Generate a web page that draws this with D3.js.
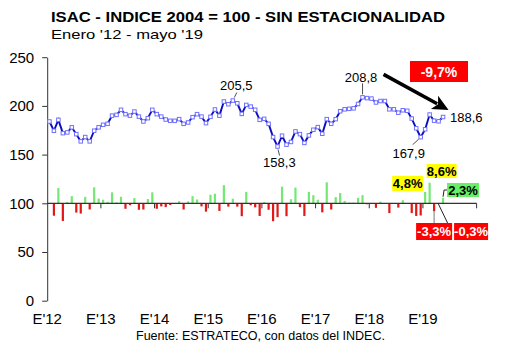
<!DOCTYPE html>
<html><head><meta charset="utf-8">
<script src="https://cdn.jsdelivr.net/npm/d3@7"></script>
<style>
body{margin:0;background:#fff;}
svg{display:block;font-family:"Liberation Sans",Arial,sans-serif;}
</style>
</head><body>
<svg id="c" width="530" height="355"></svg>
<script>
// ---- data ----
const years = ["2012","2013","2014","2015","2016","2017","2018","2019"];
const yearLabels = ["E'12","E'13","E'14","E'15","E'16","E'17","E'18","E'19"];
const yTicks = [0,50,100,150,200,250];
// ISAC index (2004=100), seasonally adjusted, Jan 2012 - May 2019
const isac = [184,174.5,185.7,172,172.8,178,171,163.6,168,163.6,174.5,178,
180.6,181.6,190,190.8,196,191.5,190,194.2,189,184,187.4,196,
191.5,189,186,184.7,184.7,186.4,181.6,183,188.4,191.5,189,182.3,
188.8,196.3,190,204.5,201.7,205.5,202.7,191.8,201,199.3,196,185.7,
186.7,181.6,168,158.3,169.4,160.2,163,173.8,171,162,169.7,175.5,
178.2,171.4,186.4,181.6,186.4,194.5,196.5,197,197.5,202,208.8,208,
207.5,203.5,205,205,196.5,196.5,193,195.5,195,187,177,167.9,
176,191.1,184.8,184.2,188.6];
// monthly % change (bars)
const varMensual = [null,-5.2,6.4,-7.4,0.5,3.0,-3.9,-4.3,2.7,-2.6,6.7,2.0,
1.5,0.6,4.6,0.4,2.7,-2.3,-0.8,2.2,-2.7,-2.6,1.8,4.6,
-2.3,-1.3,-1.6,-0.7,0.0,0.9,-2.6,0.8,3.0,1.6,-1.3,-3.5,
3.6,4.0,-3.2,7.6,-1.4,1.9,-1.4,-5.4,4.8,-0.8,-1.7,-5.3,
0.5,-2.7,-7.5,-5.8,7.0,-5.4,1.7,6.6,-1.6,-5.3,4.8,3.4,
1.5,-3.8,8.8,-2.6,2.6,4.3,1.0,0.3,0.3,2.3,3.4,-0.4,
-0.2,-1.9,0.7,0.0,-4.1,0.0,-1.8,1.3,-0.3,-4.1,-5.3,-5.1,
4.8,8.6,-3.3,-0.3,2.3];
const pointLabels = [
  {i:41, text:"205,5"}, {i:51, text:"158,3"}, {i:70, text:"208,8"},
  {i:83, text:"167,9"}, {i:88, text:"188,6"}];
const totalChange = "-9,7%";
const barLabels = [
  {i:84, text:"4,8%"}, {i:85, text:"8,6%"}, {i:86, text:"-3,3%"},
  {i:87, text:"-0,3%"}, {i:88, text:"2,3%"}];

// ---- scales ----
const months = years.flatMap(y => d3.range(12).map(m => y + "-" + String(m+1).padStart(2,"0")));
const svg = d3.select("#c");
const x = d3.scaleBand().domain(months).range([47.2, 476.6]);
const bw = x.bandwidth();
const cx = i => x(months[i]) + bw/2;
const y = d3.scaleLinear().domain([0,250]).range([300.7, 57.2]);
const yBar = d3.scaleLinear().domain([0,10]).range([y(100), y(124.5)]);

// ---- titles ----
svg.append("text").attr("x",51).attr("y",22.3)
  .attr("font-size",15.5).attr("font-weight","bold")
  .attr("textLength",394).attr("lengthAdjust","spacingAndGlyphs")
  .text("ISAC - INDICE 2004 = 100 - SIN ESTACIONALIDAD");
svg.append("text").attr("x",51).attr("y",38.5)
  .attr("font-size",13.5).attr("textLength",152).attr("lengthAdjust","spacingAndGlyphs")
  .text("Enero '12 - mayo '19");
svg.append("text").attr("x",260.5).attr("y",339.5).attr("text-anchor","middle")
  .attr("font-size",12).attr("textLength",249).attr("lengthAdjust","spacingAndGlyphs")
  .text("Fuente: ESTRATECO, con datos del INDEC.");

// ---- y axis ----
const yAx = svg.append("g").attr("transform",`translate(${x.range()[0]},0)`)
  .call(d3.axisLeft(y).tickValues(yTicks).tickSize(5).tickPadding(8).tickSizeOuter(0));
yAx.select(".domain").attr("stroke","#333");
yAx.selectAll(".tick line").attr("stroke","#333");
yAx.selectAll("text").attr("font-size",15).attr("fill","#000")
  .attr("font-family","'Liberation Sans',Arial,sans-serif");

// ---- bars ----
const barIdx = d3.range(isac.length).filter(i => varMensual[i] != null && varMensual[i] !== 0);
svg.append("g").selectAll("rect").data(barIdx).join("rect")
  .attr("x", i => cx(i) - 1.1).attr("width", 2.2)
  .attr("y", i => Math.min(yBar(varMensual[i]), yBar(0)))
  .attr("height", i => Math.abs(yBar(varMensual[i]) - yBar(0)))
  .attr("fill", i => varMensual[i] > 0 ? "#74e874" : "#e01818");

// ---- x axis at 100 ----
const y100 = y(100);
svg.append("line").attr("x1",x.range()[0]).attr("x2",x.range()[1])
  .attr("y1",y100).attr("y2",y100).attr("stroke","#333").attr("stroke-width",1.2);
const tickXs = years.map(yr => x(yr + "-01")).concat([x.range()[1]]);
svg.append("g").selectAll("line").data(tickXs.slice(1)).join("line")
  .attr("x1",d=>d).attr("x2",d=>d).attr("y1",y100).attr("y2",y100+5)
  .attr("stroke","#333");
svg.append("g").selectAll("text").data(years).join("text")
  .attr("x", (d) => x(d + "-01")).attr("y", 324)
  .attr("text-anchor","middle").attr("font-size",15)
  .text((d,k) => yearLabels[k]);

// ---- line ----
const line = d3.line().x((d,i) => cx(i)).y(d => y(d));
svg.append("path").datum(isac).attr("d", line)
  .attr("fill","none").attr("stroke","#0c0cc0").attr("stroke-width",1.9);
svg.append("g").selectAll("rect").data(isac).join("rect")
  .attr("x",(d,i)=>cx(i)-1.75).attr("y",d=>y(d)-1.75)
  .attr("width",3.5).attr("height",3.5)
  .attr("fill","#fff").attr("stroke","#7070ff").attr("stroke-width",1);

// ---- point labels ----
const lab = {
  41:{dx:3.5, dy:-10.5, anchor:"middle", l:[1.5,-3,4,-8]},
  51:{dx:1.8, dy:20.5, anchor:"middle", l:[0.5,3,2,9]},
  70:{dx:-1.5, dy:-15.5, anchor:"middle", l:[0,-3,0,-14]},
  83:{dx:-12, dy:21, anchor:"middle", l:[-2,2,-8,7.5]},
  88:{dx:7, dy:5, anchor:"start", l:null}};
pointLabels.forEach(p => {
  const px = cx(p.i), py = y(isac[p.i]), o = lab[p.i];
  if (o.l) svg.append("line").attr("x1",px+o.l[0]).attr("y1",py+o.l[1])
    .attr("x2",px+o.l[2]).attr("y2",py+o.l[3]).attr("stroke","#222").attr("stroke-width",0.8);
  svg.append("text").attr("x",px+o.dx).attr("y",py+o.dy)
    .attr("text-anchor",o.anchor).attr("font-size",13).text(p.text);
});

// ---- arrow from peak to last value ----
const pk = {x:cx(70), y:y(isac[70])}, ls = {x:cx(88), y:y(isac[88])};
const a0 = [pk.x+21, pk.y-23], a1 = [ls.x+5.5, ls.y-7];
const dxA = a1[0]-a0[0], dyA = a1[1]-a0[1], L = Math.hypot(dxA,dyA);
const u = [dxA/L, dyA/L], n = [-u[1], u[0]];
const hl = 16, hw = 7.5;
const base = [a1[0]-hl*u[0], a1[1]-hl*u[1]];
svg.append("line").attr("x1",a0[0]).attr("y1",a0[1])
  .attr("x2",base[0]+3*u[0]).attr("y2",base[1]+3*u[1])
  .attr("stroke","#000").attr("stroke-width",3.6);
svg.append("path").attr("d", `M${a1[0]},${a1[1]}L${base[0]+hw*n[0]},${base[1]+hw*n[1]}L${base[0]+4*u[0]},${base[1]+4*u[1]}L${base[0]-hw*n[0]},${base[1]-hw*n[1]}Z`)
  .attr("fill","#000");
svg.append("rect").attr("x",410).attr("y",61).attr("width",58).attr("height",21).attr("fill","#ff0000");
svg.append("text").attr("x",439).attr("y",76.5).attr("text-anchor","middle")
  .attr("font-size",14).attr("font-weight","bold").attr("fill","#fff").text(totalChange);

// ---- bar labels (last months) ----
const bl = {
  84:{x:-33, y:176, w:31, h:15, fill:"#ffff00", color:"#000"},
  85:{x:-3, y:164, w:30, h:14, fill:"#ffff00", color:"#000"},
  86:{x:-18, y:223, w:36, h:17, fill:"#ff0000", color:"#fff"},
  87:{x:15.5, y:223, w:34, h:17, fill:"#ff0000", color:"#fff"},
  88:{x:4, y:183, w:32, h:14, fill:"#66f066", color:"#000"}};
// leader lines
{
  const b86 = cx(86), b87 = cx(87), b88 = cx(88);
  svg.append("line").attr("x1",b86).attr("x2",b86).attr("y1",yBar(varMensual[86])).attr("y2",223)
    .attr("stroke","#777").attr("stroke-width",1);
  svg.append("line").attr("x1",b87-0.5).attr("y1",y100).attr("x2",b87+9).attr("y2",223)
    .attr("stroke","#222").attr("stroke-width",1);
  svg.append("polyline").attr("points",`${b88},${yBar(varMensual[88])-1} ${b88+1},${190} ${b88+4},${190}`)
    .attr("fill","none").attr("stroke","#222").attr("stroke-width",1);
}
barLabels.forEach(b => {
  const o = bl[b.i], bx = cx(b.i) + o.x;
  svg.append("rect").attr("x",bx).attr("y",o.y).attr("width",o.w).attr("height",o.h).attr("fill",o.fill);
  svg.append("text").attr("x",bx+o.w/2).attr("y",o.y + o.h/2 + 4.6)
    .attr("text-anchor","middle").attr("font-size",13).attr("font-weight","bold")
    .attr("fill",o.color).text(b.text);
});
</script>
</body></html>
